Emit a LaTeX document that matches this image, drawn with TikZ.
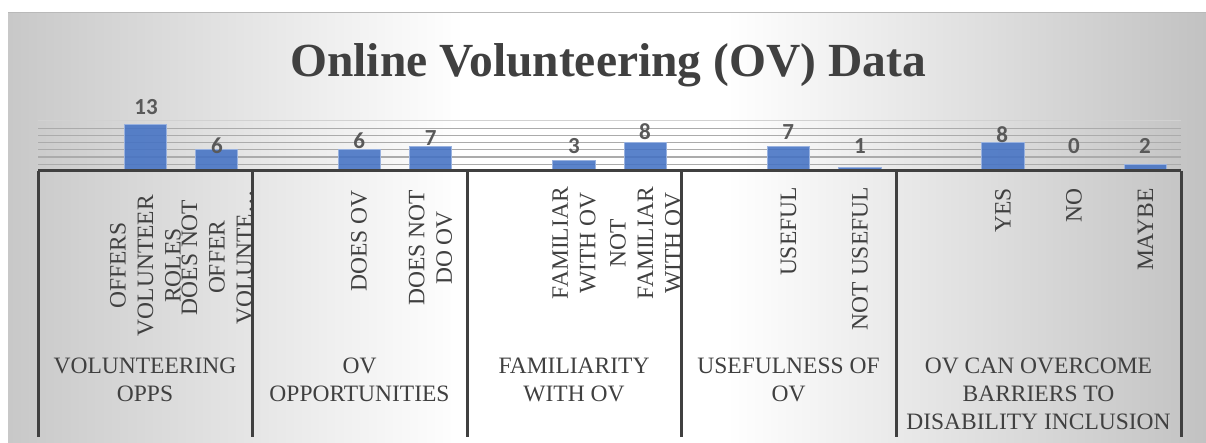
\documentclass[tikz,border=0pt]{standalone}
\usepackage{fontspec}
\setmainfont{Liberation Serif}
\newfontfamily\valuefont{Carlito}
\usepackage{xcolor}
\usepackage{tikz}
\definecolor{textgray}{HTML}{404040}
\definecolor{valuegray}{HTML}{595959}
\definecolor{bggray}{HTML}{C8C8C8}
\definecolor{bgdark}{HTML}{C2C2C2}
\definecolor{barblue}{HTML}{4472C4}
\definecolor{gridgray}{HTML}{ABABAB}
\pgfdeclarehorizontalshading{bgshade}{100bp}{color(0bp)=(bggray); color(25bp)=(bggray); color(44bp)=(white); color(55bp)=(white); color(75bp)=(bgdark); color(100bp)=(bgdark)}
\tikzset{
	barfill/.style={fill=barblue, fill opacity=0.88, draw=barblue!55!white, line width=0.8pt},
	valuelabel/.style={font=\valuefont\bfseries\fontsize{23}{26}\selectfont, text=valuegray, anchor=base, inner sep=0pt},
	catlabel/.style={font=\fontsize{23.5}{27.5}\selectfont, text=textgray, rotate=90, anchor=east, align=center, inner sep=0pt},
	grouplabel/.style={font=\fontsize{23.5}{28}\selectfont, text=textgray, anchor=north, align=center, inner sep=0pt},
	groupline/.style={textgray, line width=3pt}
}

\begin{document}
\begin{tikzpicture}[x=1pt, y=-1pt]
		\useasboundingbox (0,0) rectangle (1206,443);
		% Background
		\shade[shading=bgshade] (8,13) rectangle (1206,443);
		\draw[gray!55, line width=1pt] (8,13) -- (1206,13);
		% Title
		\node[font=\bfseries\fontsize{47.5}{56}\selectfont, text=textgray, anchor=base, inner sep=0pt] (title) at (608,77) {Online Volunteering (OV) Data};
		% Gridlines
		\draw[gridgray!55!white, line width=1pt] (38,120.8) -- (1181,120.8);
		\foreach \gy in {128.1, 135.3, 142.5, 149.8, 157.0, 164.3}
			\draw[gridgray, line width=1.1pt] (38,\gy) -- (1181,\gy);
		% Bars
		\draw[barfill] (123.9,171.5) rectangle (166.3,124.4);
		\draw[barfill] (195.2,171.5) rectangle (237.6,149.8);
		\draw[barfill] (337.9,171.5) rectangle (380.3,149.8);
		\draw[barfill] (409.3,171.5) rectangle (451.7,146.2);
		\draw[barfill] (552.8,171.5) rectangle (595.2,160.6);
		\draw[barfill] (624.3,171.5) rectangle (666.7,142.5);
		\draw[barfill] (767.3,171.5) rectangle (809.7,146.2);
		\draw[barfill] (838.8,171.5) rectangle (881.2,167.9);
		\draw[barfill] (981.7,171.5) rectangle (1024.1,142.5);
		\draw[barfill] (1124.2,171.5) rectangle (1166.6,164.3);
		% Values
		\node[valuelabel] (v11) at (146,115) {13};
		\node[valuelabel] (v12) at (217,154) {6};
		\node[valuelabel] (v21) at (359.3,148.3) {6};
		\node[valuelabel] (v22) at (430.7,146) {7};
		\node[valuelabel] (v31) at (574,153.3) {3};
		\node[valuelabel] (v32) at (645,140) {8};
		\node[valuelabel] (v41) at (788.3,140) {7};
		\node[valuelabel] (v42) at (860,154) {1};
		\node[valuelabel] (v51) at (1002.3,142.3) {8};
		\node[valuelabel] (v52) at (1074,153.3) {0};
		\node[valuelabel] (v53) at (1145,153.3) {2};
		% Axis and group boxes
		\draw[groupline] (38,171) -- (1181,171);
		\draw[groupline] (38,171) -- (38,437);
		\draw[groupline] (252,171) -- (252,437);
		\draw[groupline] (467,171) -- (467,437);
		\draw[groupline] (681,171) -- (681,437);
		\draw[groupline] (896,171) -- (896,437);
		\draw[groupline] (1181,171) -- (1181,437);
		% Categories
		\node[catlabel] (c11) at (145.5,195) {OFFERS\\VOLUNTEER\\ROLES};
		\node[catlabel] (c12) at (217,190) {DOES NOT\\OFFER\\VOLUNTE\ldots};
		\node[catlabel] (c21) at (359.1,190) {DOES OV};
		\node[catlabel] (c22) at (430.5,190) {DOES NOT\\DO OV};
		\node[catlabel] (c31) at (574,187) {FAMILIAR\\WITH OV};
		\node[catlabel] (c32) at (645.5,187) {NOT\\FAMILIAR\\WITH OV};
		\node[catlabel] (c41) at (788.5,187) {USEFUL};
		\node[catlabel] (c42) at (860,187) {NOT USEFUL};
		\node[catlabel] (c51) at (1002.9,188) {YES};
		\node[catlabel] (c52) at (1074,188) {NO};
		\node[catlabel] (c53) at (1145.4,188) {MAYBE};
		% Groups
		\node[grouplabel] (g1) at (145,358) {VOLUNTEERING\\OPPS};
		\node[grouplabel] (g2) at (359.5,358) {OV\\OPPORTUNITIES};
		\node[grouplabel] (g3) at (574,358) {FAMILIARITY\\WITH OV};
		\node[grouplabel] (g4) at (788.5,358) {USEFULNESS OF\\OV};
		\node[grouplabel] (g5) at (1038.5,358) {OV CAN OVERCOME\\BARRIERS TO\\DISABILITY INCLUSION};
	\end{tikzpicture}
\end{document}
